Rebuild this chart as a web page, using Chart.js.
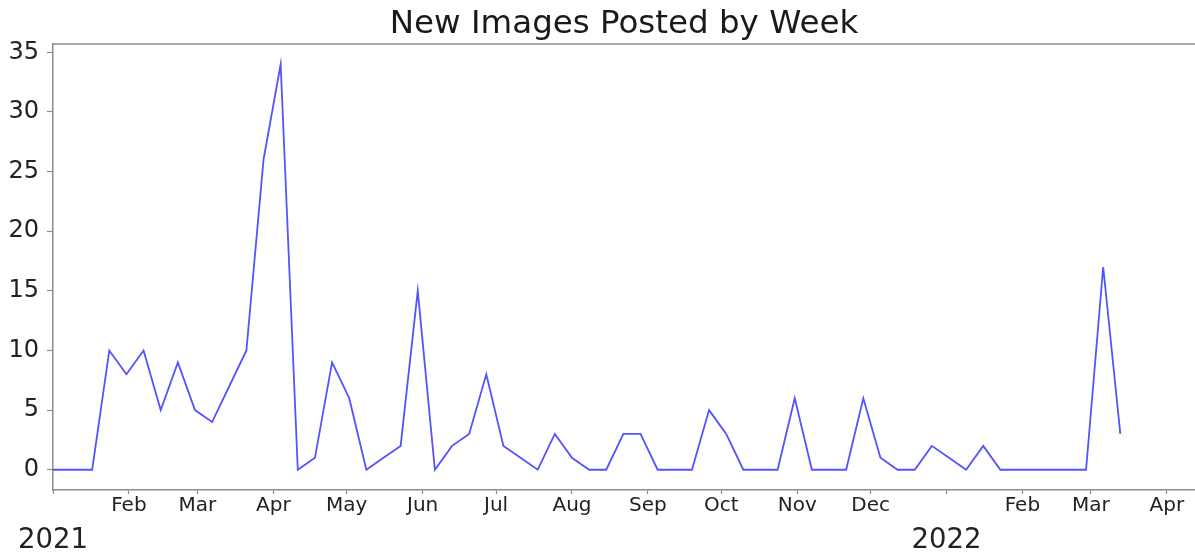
<!DOCTYPE html>
<html lang="en">
<head>
    <meta charset="UTF-8">
    <title>New Images Posted by Week</title>
    <script src="https://cdn.jsdelivr.net/npm/chart.js"></script>
    <style>
        body { margin: 0; background: white; }
        #weekChart { display: block; }
    </style>
</head>
<body>
    <canvas id="weekChart" width="1195" height="554"></canvas>
    <script>
        // week ending dates (Sundays)
        const weekDates = [
            '2020-12-27', '2021-01-03', '2021-01-10', '2021-01-17', '2021-01-24', '2021-01-31',
            '2021-02-07', '2021-02-14', '2021-02-21', '2021-02-28', '2021-03-07', '2021-03-14',
            '2021-03-21', '2021-03-28', '2021-04-04', '2021-04-11', '2021-04-18', '2021-04-25',
            '2021-05-02', '2021-05-09', '2021-05-16', '2021-05-23', '2021-05-30', '2021-06-06',
            '2021-06-13', '2021-06-20', '2021-06-27', '2021-07-04', '2021-07-11', '2021-07-18',
            '2021-07-25', '2021-08-01', '2021-08-08', '2021-08-15', '2021-08-22', '2021-08-29',
            '2021-09-05', '2021-09-12', '2021-09-19', '2021-09-26', '2021-10-03', '2021-10-10',
            '2021-10-17', '2021-10-24', '2021-10-31', '2021-11-07', '2021-11-14', '2021-11-21',
            '2021-11-28', '2021-12-05', '2021-12-12', '2021-12-19', '2021-12-26', '2022-01-02',
            '2022-01-09', '2022-01-16', '2022-01-23', '2022-01-30', '2022-02-06', '2022-02-13',
            '2022-02-20', '2022-02-27', '2022-03-06', '2022-03-13'
        ];
        const newImages = [
            0, 0, 0, 0, 10, 8, 10, 5, 9, 5, 4,
            7, 10, 26, 34, 0, 1, 9, 6, 0, 1,
            2, 15, 0, 2, 3, 8, 2, 1, 0, 3,
            1, 0, 0, 3, 3, 0, 0, 0, 5, 3,
            0, 0, 0, 6, 0, 0, 0, 6, 1, 0,
            0, 2, 1, 0, 2, 0, 0, 0, 0, 0,
            0, 17, 3
        ];

        const monthTickDates = [
            '2021-01-01', '2021-02-01', '2021-03-01', '2021-04-01', '2021-05-01', '2021-06-01',
            '2021-07-01', '2021-08-01', '2021-09-01', '2021-10-01', '2021-11-01', '2021-12-01',
            '2022-01-01', '2022-02-01', '2022-03-01', '2022-04-01'
        ];
        const monthLabels = ['', 'Feb', 'Mar', 'Apr', 'May', 'Jun', 'Jul', 'Aug', 'Sep', 'Oct', 'Nov', 'Dec',
                             '', 'Feb', 'Mar', 'Apr'];
        const yearTickDates = ['2021-01-01', '2022-01-01'];
        const yearLabels = ['2021', '2022'];
        const yTicks = [0, 5, 10, 15, 20, 25, 30, 35];

        const startDate = '2021-01-01';
        const endDate = '2022-04-13';

        // days since start of axis
        function dayOf(s) {
            const p = s.split('-').map(Number);
            const q = startDate.split('-').map(Number);
            return (Date.UTC(p[0], p[1] - 1, p[2]) - Date.UTC(q[0], q[1] - 1, q[2])) / 86400000;
        }

        const FONT = "'DejaVu Sans', sans-serif";
        const AXIS = '#8c8c8c';
        const xMax = dayOf(endDate) - 0.5;

        const topSpine = {
            id: 'topSpine',
            afterDraw(chart) {
                const a = chart.chartArea;
                const ctx = chart.ctx;
                ctx.save();
                ctx.strokeStyle = AXIS;
                ctx.lineWidth = 1.5;
                ctx.beginPath();
                ctx.moveTo(a.left, a.top);
                ctx.lineTo(a.right, a.top);
                ctx.stroke();
                ctx.restore();
            }
        };

        new Chart(document.getElementById('weekChart'), {
            type: 'line',
            data: {
                datasets: [{
                    label: 'New Images',
                    data: weekDates.map((d, i) => ({ x: dayOf(d), y: newImages[i] })),
                    borderColor: 'rgba(40, 40, 255, 0.8)',
                    borderWidth: 1.8,
                    pointRadius: 0,
                    tension: 0,
                    fill: false
                }]
            },
            options: {
                responsive: false,
                animation: false,
                devicePixelRatio: 1,
                layout: { padding: 0 },
                plugins: {
                    legend: { display: false },
                    tooltip: { enabled: false },
                    title: {
                        display: true,
                        text: 'New Images Posted by Week',
                        fullSize: false,
                        color: '#1a1a1a',
                        font: { family: FONT, size: 32.5, weight: 'normal' },
                        padding: { top: 5, bottom: 0 }
                    }
                },
                scales: {
                    x: {
                        type: 'linear',
                        position: 'bottom',
                        weight: 0,
                        min: 0,
                        max: xMax,
                        afterBuildTicks: s => { s.ticks = monthTickDates.map(d => ({ value: dayOf(d) })); },
                        afterFit: s => { s.height = 28; },
                        ticks: {
                            autoSkip: false,
                            maxRotation: 0,
                            padding: 0,
                            color: '#222',
                            font: { family: FONT, size: 20 },
                            callback: (v, i) => monthLabels[i]
                        },
                        grid: { drawOnChartArea: false, tickLength: 4, tickColor: AXIS, tickWidth: 1.2 },
                        border: { color: AXIS, width: 1.5 }
                    },
                    x2: {
                        type: 'linear',
                        position: 'bottom',
                        weight: 1,
                        min: 0,
                        max: xMax,
                        afterBuildTicks: s => { s.ticks = yearTickDates.map(d => ({ value: dayOf(d) })); },
                        afterFit: s => { s.height = 36; },
                        ticks: {
                            autoSkip: false,
                            maxRotation: 0,
                            padding: 1,
                            color: '#222',
                            font: { family: FONT, size: 27.5, lineHeight: 1 },
                            callback: (v, i) => yearLabels[i]
                        },
                        grid: { display: false },
                        border: { display: false }
                    },
                    y: {
                        type: 'linear',
                        min: -1.7,
                        max: 35.7,
                        afterBuildTicks: s => { s.ticks = yTicks.map(v => ({ value: v })); },
                        afterFit: s => { s.width = 53; },
                        ticks: {
                            padding: 8,
                            color: '#222',
                            font: { family: FONT, size: 24 }
                        },
                        grid: { drawOnChartArea: false, tickLength: 6, tickColor: AXIS, tickWidth: 1.2 },
                        border: { color: AXIS, width: 1.5 }
                    }
                }
            },
            plugins: [topSpine]
        });
    </script>
</body>
</html>
